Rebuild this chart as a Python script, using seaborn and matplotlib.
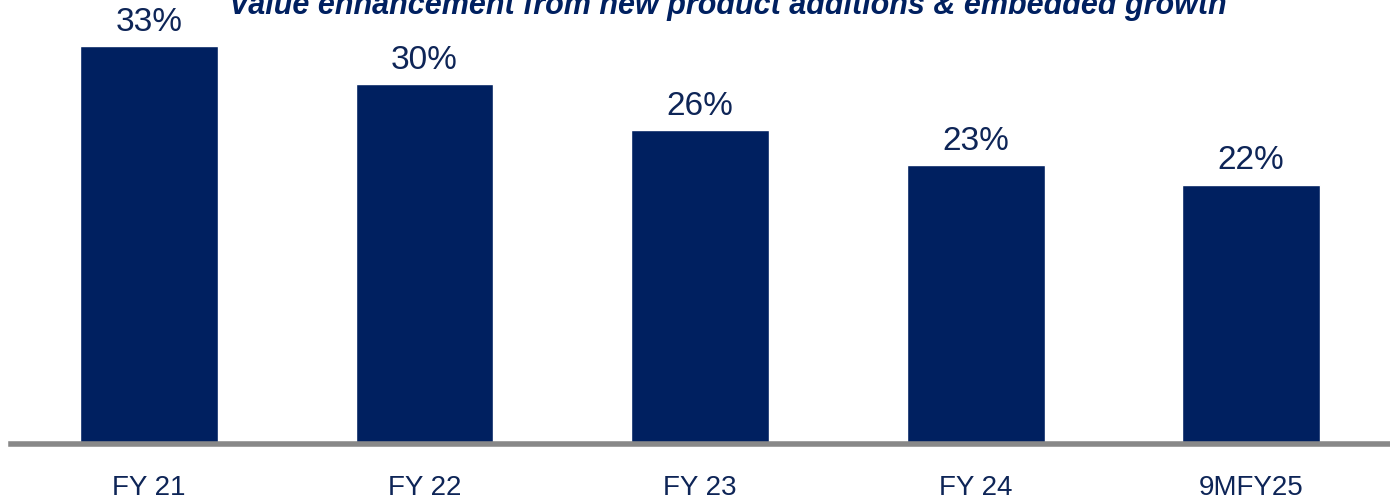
import matplotlib
matplotlib.use("Agg")
import matplotlib.pyplot as plt
import seaborn as sns
import pandas as pd

categories = ["FY 21", "FY 22", "FY 23", "FY 24", "9MFY25"]
values = [33.0, 29.8, 26.0, 23.1, 21.5]
value_labels = ["33%", "30%", "26%", "23%", "22%"]
title = "Value enhancement from new product additions & embedded growth"

sns.set_theme(style="white")
plt.rcParams['font.family'] = ['Liberation Sans', 'DejaVu Sans']

BAR = "#002060"
TXT = "#0E2557"

df = pd.DataFrame({"cat": categories, "val": values})
fig = plt.figure(figsize=(13.9, 5.01), dpi=100)
ax = fig.add_axes([11/1390, (501-444)/501, 1378/1390, 444/501])
sns.barplot(data=df, x="cat", y="val", color=BAR, width=0.5, saturation=1, ax=ax)
ax.set_xlim(-0.5, 4.5)
ax.set_ylim(0, 36.8)
ax.bar_label(ax.containers[0], labels=value_labels, padding=6, fontsize=24, color=TXT)
for s in ["top", "right", "left"]:
    ax.spines[s].set_visible(False)
ax.spines["bottom"].set_color("#888888")
ax.spines["bottom"].set_linewidth(4)
ax.set_yticks([])
ax.set_xlabel("")
ax.set_ylabel("")
ax.tick_params(axis="x", length=0, pad=22, labelsize=20, labelcolor=TXT)
fig.text(728/1390, 1 - 14/501, title, ha="center", va="baseline", fontsize=22,
         fontweight="bold", fontstyle="italic", color=BAR)
fig.savefig("out.png", dpi=100)
